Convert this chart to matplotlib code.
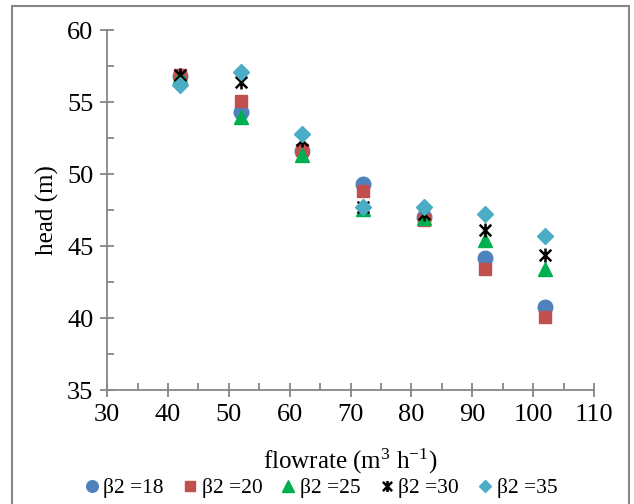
import numpy as np
import matplotlib.pyplot as plt
from matplotlib.path import Path
from matplotlib.patches import Rectangle

plt.rcParams['font.family'] = ['Liberation Serif', 'DejaVu Serif']
plt.rcParams['mathtext.fontset'] = 'custom'
plt.rcParams['mathtext.rm'] = 'Liberation Serif'
plt.rcParams['mathtext.default'] = 'regular'

# datos
flowrate = [42, 52, 62, 72, 82, 92, 102]
b18 = [56.8, 54.3, 51.6, 49.3, 47.05, 44.2, 40.8]
b20 = [56.9, 55.1, 51.7, 48.8, 46.8, 43.4, 40.1]
b25 = [56.85, 54.0, 51.3, 47.6, 46.95, 45.4, 43.4]
b30 = [56.9, 56.4, 52.4, 47.75, 47.2, 46.1, 44.4]
b35 = [56.2, 57.1, 52.8, 47.7, 47.75, 47.2, 45.7]
labels = ['β2 =18', 'β2 =20', 'β2 =25', 'β2 =30', 'β2 =35']

# marcador estrella (X + linea vertical)
star = Path([(-1, -1), (1, 1), (-1, 1), (1, -1), (0, -1.2), (0, 1.2)],
            [Path.MOVETO, Path.LINETO, Path.MOVETO, Path.LINETO, Path.MOVETO, Path.LINETO])

gray = '#868686'
fig = plt.figure(figsize=(6.34, 5.04), dpi=100)
ax = fig.add_axes([0.169, 0.226, 0.768, 0.714])

ax.plot(flowrate, b18, 'o', color='#4F81BD', ms=10.5, label=labels[0])
ax.plot(flowrate, b20, 's', color='#C0504D', ms=9, label=labels[1])
ax.plot(flowrate, b25, '^', color='#00B050', ms=10, label=labels[2])
ax.plot(flowrate, b30, marker=star, ls='none', mfc='none', mec='black', mew=1.8, ms=10, label=labels[3])
ax.plot(flowrate, b35, 'D', color='#4BACC6', ms=8, label=labels[4])

ax.set_xlim(30, 110)
ax.set_ylim(35, 60)
ax.set_xticks(np.arange(30, 111, 10))
ax.set_yticks(np.arange(35, 61, 5))
ax.set_xticks(np.arange(35, 110, 10), minor=True)
ax.set_yticks(np.arange(37.5, 60, 5), minor=True)
ax.tick_params(which='major', direction='inout', length=10, width=1.3, color=gray, labelsize=19, pad=5)
ax.tick_params(which='minor', direction='in', length=5, width=1.3, color=gray)
for s in ['top', 'right']:
    ax.spines[s].set_visible(False)
for s in ['left', 'bottom']:
    ax.spines[s].set_color(gray)
    ax.spines[s].set_linewidth(1.3)

ax.set_ylabel('head (m)', fontsize=18, labelpad=6)
ax.set_xlabel('flowrate (m$^{3}$ h$^{-1}$)', fontsize=18, labelpad=15)

fig.legend(loc='lower center', bbox_to_anchor=(0.505, -0.014), ncol=5, frameon=False,
           fontsize=15.5, handlelength=0.8, handletextpad=0.15, columnspacing=0.8,
           markerscale=0.8, borderaxespad=0.2)

fig.patches.append(Rectangle((0.019, -0.01), 0.973, 0.998, transform=fig.transFigure,
                             fill=False, ec=gray, lw=1.5))

fig.savefig('out.png', dpi=100)
